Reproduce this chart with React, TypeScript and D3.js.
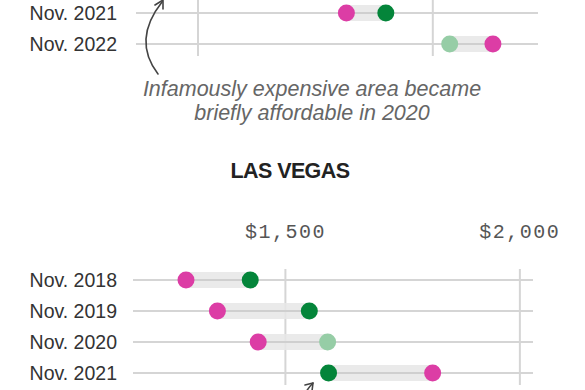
import * as React from "react";
import * as d3 from "d3";

// top panel (city name and tick labels sit above the visible area)
const topRows = ["Nov. 2021", "Nov. 2022"];
const topRent = [2816, 3128];
const topAfford = [2900, 3036];
const topFaded = [false, true];
const topTicks = [2500, 3000];

// Las Vegas panel
const vegasRows = ["Nov. 2018", "Nov. 2019", "Nov. 2020", "Nov. 2021"];
const vegasRent = [1288, 1355, 1442, 1814];
const vegasAfford = [1425, 1551, 1590, 1592];
const vegasFaded = [false, false, true, false];
const vegasTicks = [1500, 2000];

const PINK = "#dc3da5";
const GREEN = "#04853a";
const GREEN_LIGHT = "#96cda6";
const BAND = "#e6e6e6";
const GRID = "#d5d5d5";

const sans = "'Liberation Sans', Arial, sans-serif";
const mono = "'Liberation Mono', 'DejaVu Sans Mono', monospace";

function fmt(v) {
    return "$" + d3.format(",")(v);
}

function Panel(props) {
    const { rows, rent, afford, faded, ticks, xDomain, xRange, yFirst, gridTop, tickY, title, titleY } = props;
    const x = d3.scaleLinear().domain(xDomain).range(xRange);
    const y = d3.scalePoint().domain(rows).range([yFirst, yFirst + 31 * (rows.length - 1)]);
    const gridBottom = y(rows[rows.length - 1]) + 12;

    return (
        <g>
            {title && (
                <text x={290} y={titleY} textAnchor="middle" fontFamily={sans} fontWeight="bold"
                      fontSize={21.5} letterSpacing={-0.6} fill="#222">{title}</text>
            )}
            {tickY != null && ticks.map(t => (
                <text key={"tl" + t} x={x(t)} y={tickY} textAnchor="middle" fontFamily={mono}
                      fontSize={20} letterSpacing={1.5} fill="#555">{fmt(t)}</text>
            ))}
            {ticks.map(t => (
                <line key={"g" + t} x1={x(t)} x2={x(t)} y1={gridTop} y2={gridBottom}
                      stroke={GRID} strokeWidth={2}/>
            ))}
            {rows.map((r, i) => {
                const lo = Math.min(rent[i], afford[i]);
                const hi = Math.max(rent[i], afford[i]);
                return (
                    <g key={r}>
                        <text x={117} y={y(r)} dy="0.35em" textAnchor="end" fontFamily={sans}
                              fontSize={19.5} fill="#333">{r}</text>
                        <line x1={xRange[0]} x2={xRange[1]} y1={y(r)} y2={y(r)} stroke={GRID} strokeWidth={2}/>
                        <rect x={x(lo)} y={y(r) - 8} width={x(hi) - x(lo)} height={16} fill={BAND} opacity={0.85}/>
                        <line x1={x(lo)} x2={x(hi)} y1={y(r)} y2={y(r)} stroke="#cfcfcf" strokeWidth={2}/>
                        <circle cx={x(rent[i])} cy={y(r)} r={8.5} fill={PINK}/>
                        <circle cx={x(afford[i])} cy={y(r)} r={8.5} fill={faded[i] ? GREEN_LIGHT : GREEN}/>
                    </g>
                );
            })}
        </g>
    );
}

function Arrow({ d, head }) {
    return (
        <g fill="none" stroke="#444" strokeWidth={1.6} strokeLinecap="round" strokeLinejoin="round">
            <path d={d}/>
            <path d={head}/>
        </g>
    );
}

export default function App() {
    return (
        <div style={{ position: "fixed", left: 0, top: 0, background: "#fff" }}>
            <svg width={585} height={390} style={{ display: "block" }}>
                <Panel rows={topRows} rent={topRent} afford={topAfford} faded={topFaded}
                       ticks={topTicks} xDomain={[2368, 3224]} xRange={[136, 538]}
                       yFirst={13} gridTop={-20}/>
                <Arrow d="M158,74 Q132,40 162,2" head="M155,5 L163,0 L163,9"/>
                <text x={312} y={88} dy="0.35em" textAnchor="middle" fontFamily={sans} fontStyle="italic"
                      fontSize={21.5} fill="#666">Infamously expensive area became</text>
                <text x={312} y={112} dy="0.35em" textAnchor="middle" fontFamily={sans} fontStyle="italic"
                      fontSize={21.5} fill="#666">briefly affordable in 2020</text>

                <Panel rows={vegasRows} rent={vegasRent} afford={vegasAfford} faded={vegasFaded}
                       ticks={vegasTicks} xDomain={[1175, 2028]} xRange={[133, 533]}
                       yFirst={280} gridTop={269} tickY={238} title="LAS VEGAS" titleY={178}/>
                <Arrow d="M302,400 Q306,390 313,383" head="M305,385 L313,383 L312,391"/>
            </svg>
        </div>
    );
}
